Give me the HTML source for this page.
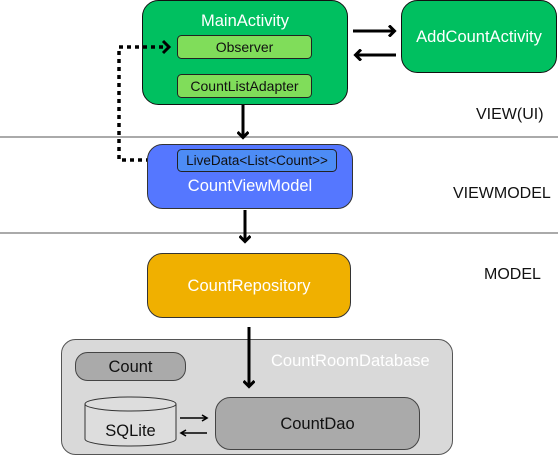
<!DOCTYPE html>
<html><head><meta charset="utf-8"><style>
html,body{margin:0;padding:0;background:#fff;width:558px;height:458px;overflow:hidden}
svg{display:block}
text{font-family:"Liberation Sans",sans-serif}
</style></head><body>
<svg width="558" height="458" viewBox="0 0 558 458" xmlns="http://www.w3.org/2000/svg">
<defs>
<marker id="ah" markerWidth="12" markerHeight="12" refX="6" refY="6" orient="auto" markerUnits="userSpaceOnUse">
<path d="M1,0.5 L6.5,6 L1,11.5" fill="none" stroke="#000" stroke-width="3"/>
</marker>
<marker id="as" markerWidth="8" markerHeight="8" refX="6" refY="4" orient="auto" markerUnits="userSpaceOnUse">
<path d="M1,1 L6,4 L1,7" fill="none" stroke="#000" stroke-width="1.6"/>
</marker>
</defs>
<line x1="0" y1="137" x2="558" y2="137" stroke="#aaa" stroke-width="2"/>
<line x1="0" y1="233" x2="558" y2="233" stroke="#aaa" stroke-width="2"/>
<text x="476" y="119" font-size="16" fill="#111">VIEW(UI)</text>
<text x="453" y="198" font-size="16" fill="#111">VIEWMODEL</text>
<text x="484" y="279" font-size="16" fill="#111">MODEL</text>

<rect x="142.5" y="0.5" width="205" height="104" rx="16" fill="#00c060" stroke="#111" stroke-width="1"/>
<text x="245" y="26" font-size="16.5" fill="#fff" text-anchor="middle">MainActivity</text>
<rect x="177.5" y="35.5" width="134" height="23" rx="4" fill="#80dd5a" stroke="#222" stroke-width="1"/>
<text x="244.5" y="52" font-size="14" fill="#111" text-anchor="middle">Observer</text>
<rect x="177.5" y="74.5" width="134" height="23" rx="4" fill="#80dd5a" stroke="#222" stroke-width="1"/>
<text x="244.5" y="91" font-size="14" fill="#111" text-anchor="middle">CountListAdapter</text>

<rect x="401.5" y="0.5" width="155" height="72" rx="16" fill="#00c060" stroke="#111" stroke-width="1"/>
<text x="479" y="42" font-size="16.5" fill="#fff" text-anchor="middle">AddCountActivity</text>
<line x1="353" y1="31" x2="394" y2="31" stroke="#000" stroke-width="3" marker-end="url(#ah)"/>
<line x1="396" y1="55" x2="356" y2="55" stroke="#000" stroke-width="3" marker-end="url(#ah)"/>

<line x1="243" y1="105" x2="243" y2="137" stroke="#000" stroke-width="3" marker-end="url(#ah)"/>

<polyline points="166,160 119,160 119,47 168,47" fill="none" stroke="#000" stroke-width="3.5" stroke-dasharray="4,4"/>
<path d="M163,41 L169,47 L163,53" fill="none" stroke="#000" stroke-width="3"/>

<rect x="147.5" y="144.5" width="205" height="64" rx="15" fill="#5577ff" stroke="#333" stroke-width="1"/>
<rect x="177.5" y="149.5" width="159" height="22" rx="4" fill="#4d8cf5" stroke="#222" stroke-width="1"/>
<text x="257" y="165" font-size="13.5" fill="#111" text-anchor="middle">LiveData&lt;List&lt;Count&gt;&gt;</text>
<text x="250" y="191" font-size="16.5" fill="#fff" text-anchor="middle">CountViewModel</text>

<line x1="245" y1="210" x2="245" y2="241" stroke="#000" stroke-width="3" marker-end="url(#ah)"/>

<rect x="147.5" y="253.5" width="203" height="64" rx="15" fill="#f0b000" stroke="#333" stroke-width="1"/>
<text x="249" y="291" font-size="16.5" fill="#fff" text-anchor="middle">CountRepository</text>

<rect x="61.5" y="339.5" width="391" height="115" rx="14" fill="#d9d9d9" stroke="#555" stroke-width="1"/>
<text x="271" y="366" font-size="16.5" fill="#fff">CountRoomDatabase</text>
<rect x="75.5" y="352.5" width="110" height="28" rx="12" fill="#aaa" stroke="#444" stroke-width="1"/>
<text x="130.5" y="372" font-size="16.5" fill="#111" text-anchor="middle">Count</text>
<rect x="215.5" y="397.5" width="204" height="52" rx="15" fill="#aaa" stroke="#444" stroke-width="1"/>
<text x="317.5" y="429" font-size="16.5" fill="#111" text-anchor="middle">CountDao</text>

<line x1="249" y1="327" x2="249" y2="386" stroke="#000" stroke-width="3" marker-end="url(#ah)"/>

<path d="M85,404 L85,439 A45.5,7 0 0 0 176,439 L176,404" fill="#ddd" stroke="#333" stroke-width="1"/>
<ellipse cx="130.5" cy="404" rx="45.5" ry="7" fill="#ddd" stroke="#333" stroke-width="1"/>
<text x="130.5" y="436" font-size="16.5" fill="#111" text-anchor="middle">SQLite</text>
<line x1="180" y1="418" x2="207" y2="418" stroke="#000" stroke-width="1.6" marker-end="url(#as)"/>
<line x1="207" y1="433" x2="181" y2="433" stroke="#000" stroke-width="1.6" marker-end="url(#as)"/>
</svg>
</body></html>
